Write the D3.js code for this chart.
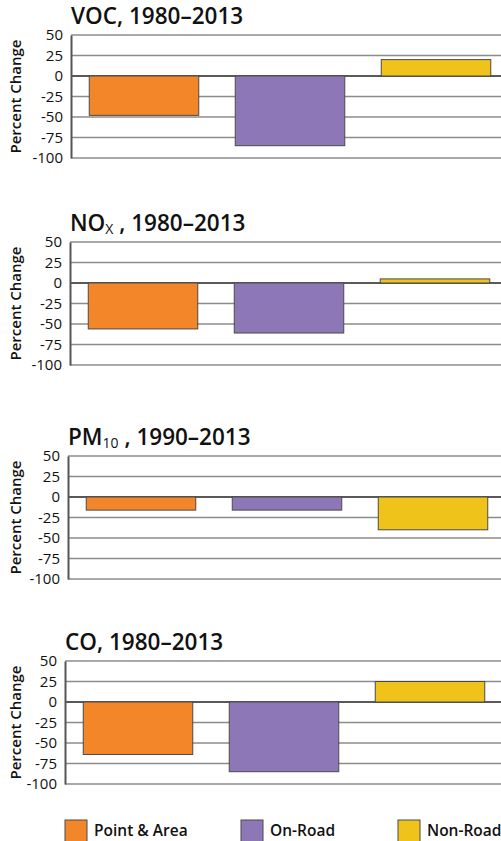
<!DOCTYPE html>
<html>
<head>
<meta charset="utf-8">
<script src="https://cdn.jsdelivr.net/npm/d3@7"></script>
<style>
  body { margin: 0; background: #fff; }
  svg { display: block; font-family: "Open Sans", sans-serif; }
</style>
</head>
<body>
<svg width="501" height="841"></svg>
<script>
// source categories (legend order)
var categories = ['Point & Area', 'On-Road', 'Non-Road'];
var colors = ['#f4862a', '#8e77b6', '#efc31a'];

// one panel per pollutant
var titleMain = ['VOC', 'NO', 'PM', 'CO'];
var titleSub = ['', 'X', '10', ''];
var periods = ['1980–2013', '1980–2013', '1990–2013', '1980–2013'];

// percent change per source, one value per pollutant
var pointArea = [-48, -56, -16, -64];
var onRoad = [-85, -61, -16, -85];
var nonRoad = [20, 5, -40, 25];

var yTicks = [50, 25, 0, -25, -50, -75, -100];

// panel placement
var panelTop = [35, 242, 456, 661];
var panelLeft = [71, 70, 68, 65];
var plotH = 123;
var plotW = 438;

var svg = d3.select('svg');

panelTop.forEach(function(top, i) {
  var left = panelLeft[i];
  var values = [pointArea[i], onRoad[i], nonRoad[i]];

  var x = d3.scaleBand()
    .domain(categories)
    .range([0, plotW])
    .paddingInner(0.25)
    .paddingOuter(0.125);

  var y = d3.scaleLinear()
    .domain([-100, 50])
    .range([plotH, 0]);

  var g = svg.append('g')
    .attr('transform', 'translate(' + left + ',' + top + ')');

  // title
  var title = svg.append('text')
    .attr('x', left)
    .attr('y', top - 11)
    .attr('font-size', 22.5)
    .attr('font-weight', 600)
    .attr('fill', '#111');
  title.append('tspan').text(titleMain[i]);
  if (titleSub[i]) {
    title.append('tspan')
      .attr('font-size', 14)
      .attr('font-weight', 400)
      .attr('dy', 3)
      .text(titleSub[i]);
    title.append('tspan').attr('dy', -3).text(' , ' + periods[i]);
  } else {
    title.append('tspan').text(', ' + periods[i]);
  }

  // gridlines
  g.selectAll('.grid')
    .data(yTicks.filter(d => d !== 0))
    .enter()
    .append('line')
    .attr('x1', 0)
    .attr('x2', plotW)
    .attr('y1', d => y(d))
    .attr('y2', d => y(d))
    .attr('stroke', '#8c8c8c')
    .attr('stroke-width', 1.5);

  // zero line
  g.append('line')
    .attr('x1', 0)
    .attr('x2', plotW)
    .attr('y1', y(0))
    .attr('y2', y(0))
    .attr('stroke', '#222')
    .attr('stroke-width', 1.5);

  // bars
  g.selectAll('.bar')
    .data(values)
    .enter()
    .append('rect')
    .attr('x', (d, j) => x(categories[j]))
    .attr('width', x.bandwidth())
    .attr('y', d => y(Math.max(0, d)))
    .attr('height', d => Math.abs(y(d) - y(0)))
    .attr('fill', (d, j) => colors[j])
    .attr('stroke', '#4a4a4a')
    .attr('stroke-width', 1);

  // y axis
  var axis = g.append('g')
    .call(d3.axisLeft(y).tickValues(yTicks).tickSize(0).tickPadding(8).tickFormat(d => String(d).replace('−', '-')));
  axis.select('.domain')
    .attr('stroke', '#555')
    .attr('stroke-width', 2);
  axis.selectAll('text')
    .attr('font-family', '"Open Sans", sans-serif')
    .attr('font-size', 15)
    .attr('fill', '#111');

  // y label
  svg.append('text')
    .attr('transform', 'translate(' + 21 + ',' + (top + plotH / 2) + ') rotate(-90)')
    .attr('text-anchor', 'middle')
    .attr('font-size', 15)
    .attr('font-weight', 600)
    .attr('fill', '#111')
    .text('Percent Change');
});

// legend
var legendX = [65, 241, 398];
var legend = svg.selectAll('.legend')
  .data(categories)
  .enter()
  .append('g')
  .attr('transform', (d, j) => 'translate(' + legendX[j] + ',820)');

legend.append('rect')
  .attr('width', 22)
  .attr('height', 22)
  .attr('fill', (d, j) => colors[j])
  .attr('stroke', '#4a4a4a')
  .attr('stroke-width', 1);

legend.append('text')
  .attr('x', 29)
  .attr('y', 16)
  .attr('font-size', 15.5)
  .attr('font-weight', 600)
  .attr('fill', '#111')
  .text(d => d);
</script>
</body>
</html>
